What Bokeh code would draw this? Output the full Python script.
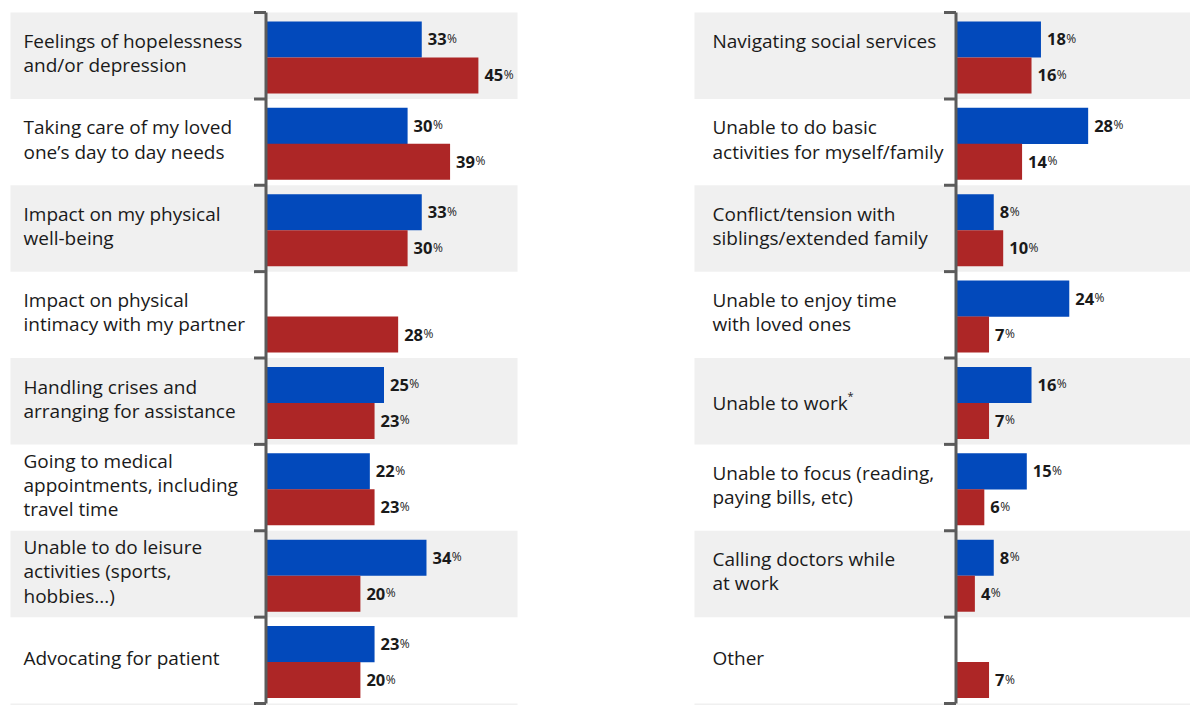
import numpy as np
from bokeh.plotting import figure
from bokeh.layouts import row
from bokeh.models import ColumnDataSource, Range1d
from bokeh.core.properties import value
from bokeh.embed import file_html
from bokeh.resources import INLINE

# ---------------- data ----------------
left_labels = [
    "Feelings of hopelessness\nand/or depression",
    "Taking care of my loved\none\u2019s day to day needs",
    "Impact on my physical\nwell-being",
    "Impact on physical\nintimacy with my partner",
    "Handling crises and\narranging for assistance",
    "Going to medical\nappointments, including\ntravel time",
    "Unable to do leisure\nactivities (sports,\nhobbies...)",
    "Advocating for patient",
]
left_blue = [33, 30, 33, None, 25, 22, 34, 23]
left_red = [45, 39, 30, 28, 23, 23, 20, 20]

right_labels = [
    "Navigating social services",
    "Unable to do basic\nactivities for myself/family",
    "Conflict/tension with\nsiblings/extended family",
    "Unable to enjoy time\nwith loved ones",
    "Unable to work",
    "Unable to focus (reading,\npaying bills, etc)",
    "Calling doctors while\nat work",
    "Other",
]
right_blue = [18, 28, 8, 24, 16, 15, 8, None]
right_red = [16, 14, 10, 7, 7, 6, 4, 7]
right_footnote_row = 4  # "Unable to work" carries a footnote mark

# ---------------- style ----------------
BLUE = "#0249bb"
RED = "#ad2626"
BAND = "#f0f0f0"
AXIS = "#5b5b5b"
TXT = "#1a1a1a"
FONT = "Open Sans"
PX_PER_PCT = 4.72
ROW_H_PX = 86.375
TOP_PX = 12
H = 705
DIGIT_W = 9.4


def panel(labels, blue, red, width, zero_px, band_left_px, band_right_px, label_px,
          nudges=None, footnote=None):
    x0 = -zero_px / PX_PER_PCT
    x1 = (width - zero_px) / PX_PER_PCT
    y_top = -TOP_PX / ROW_H_PX
    y_bot = (H - TOP_PX) / ROW_H_PX
    p = figure(width=width, height=H, x_range=Range1d(x0, x1),
               y_range=Range1d(y_bot, y_top), output_backend="svg",
               toolbar_location=None, min_border=0, outline_line_color=None)
    p.axis.visible = False
    p.grid.visible = False
    p.background_fill_color = "white"
    p.border_fill_color = "white"

    n = len(labels)
    band_rows = [i for i in range(n + 1) if i % 2 == 0]
    bl = (band_left_px - zero_px) / PX_PER_PCT
    br = (band_right_px - zero_px) / PX_PER_PCT
    p.quad(left=bl, right=br, top=band_rows, bottom=[r + 1 for r in band_rows],
           fill_color=BAND, line_color=None)

    # bars
    for vals, off, col in ((blue, 0.3125, BLUE), (red, 0.729, RED)):
        ys = [i + off for i, v in enumerate(vals) if v is not None]
        vs = [v for v in vals if v is not None]
        src = ColumnDataSource(dict(y=ys, v=vs, t=[str(v) for v in vs],
                                    po=[6 + DIGIT_W * len(str(v)) + 0.5 for v in vs]))
        p.hbar(y="y", left=0, right="v", height=0.417, source=src,
               fill_color=col, line_color=None)
        p.text(x="v", y="y", text="t", source=src, x_offset=6,
               text_font=value(FONT), text_font_size="16.5px", text_font_style="bold",
               text_color=TXT, text_baseline="middle", text_align="left")
        p.text(x="v", y="y", text=value("%"), source=src, x_offset="po", y_offset=-1,
               text_font=value(FONT), text_font_size="12px",
               text_color=TXT, text_baseline="middle", text_align="left")

    # category labels
    lx = (label_px - zero_px) / PX_PER_PCT
    nudges = nudges or {}
    ly = [i + 0.47 + nudges.get(i, 0) / ROW_H_PX for i in range(n)]
    p.text(x=lx, y=ly, text=labels,
           text_font=value(FONT), text_font_size="19px", text_color=TXT,
           text_baseline="middle", text_align="left", text_line_height=0.93)
    if footnote is not None:
        p.text(x=lx, y=ly[footnote], text=value("*"), x_offset=135, y_offset=-7,
               text_font=value(FONT), text_font_size="11px", text_color=TXT,
               text_baseline="middle", text_align="left")

    # axis with bracket ticks
    p.segment(x0=0, y0=0, x1=0, y1=n, line_color=AXIS, line_width=3)
    p.ray(x=0, y=list(range(n + 1)), length=12, angle=np.pi, length_units="screen",
          line_color=AXIS, line_width=3)
    return p


left = panel(left_labels, left_blue, left_red, 595, 265.5, 10, 517, 23)
right = panel(right_labels, right_blue, right_red, 595, 360.5, 99, 600, 117,
              nudges={0: -12, 4: 4}, footnote=right_footnote_row)

layout = row(left, right)
open("out.html", "w").write(file_html(layout, INLINE))
